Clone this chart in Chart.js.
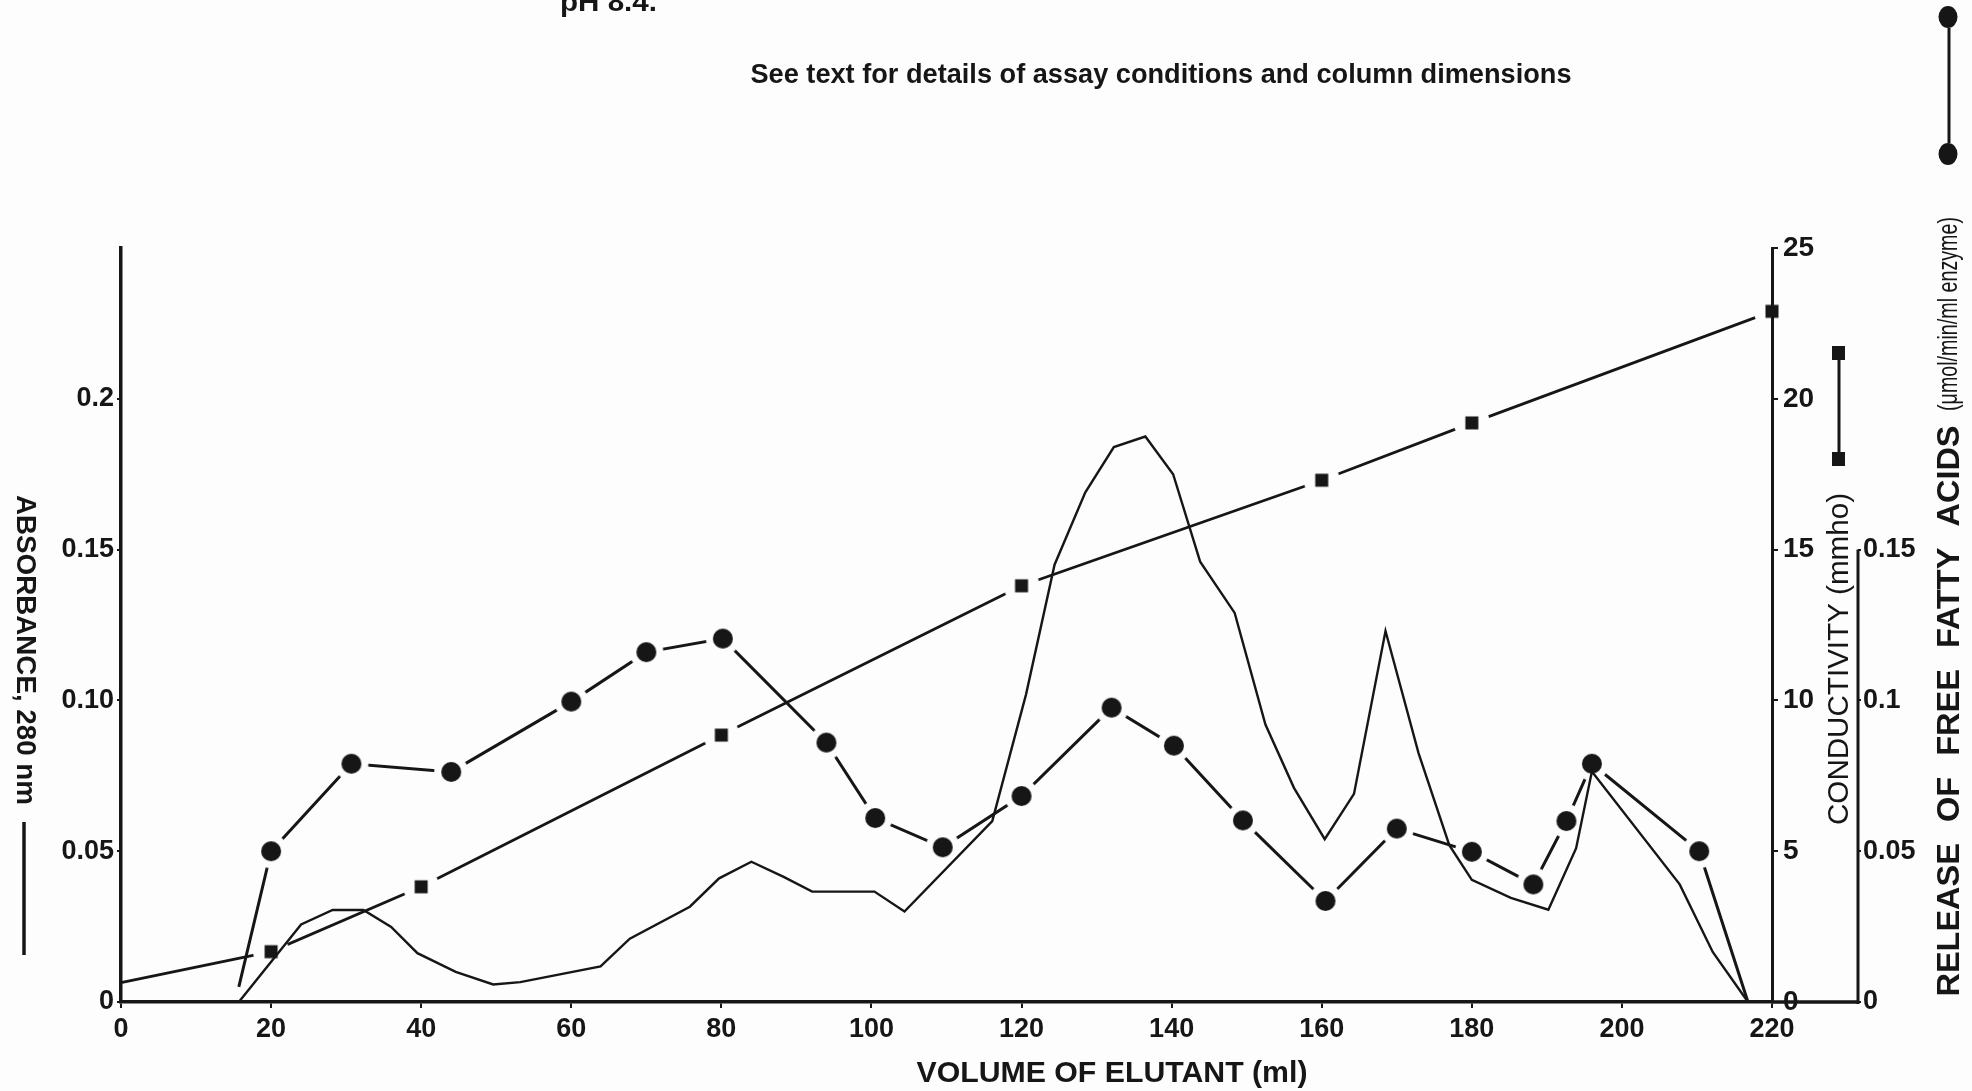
<!DOCTYPE html>
<html>
<head>
<meta charset="utf-8">
<title>Elution profile</title>
<script src="https://cdn.jsdelivr.net/npm/chart.js@4.4.1/dist/chart.umd.min.js"></script>
<style>
  html, body { margin: 0; padding: 0; background: #fdfdfd; }
  #wrap { position: relative; width: 1972px; height: 1091px; }
</style>
</head>
<body>
<div id="wrap"><canvas id="elutionChart"></canvas></div>
<script>
// absorbance at 280 nm (plain trace)
const absVolume = [15.7, 24, 28.2, 32.3, 36, 39.5, 44.6, 49.6, 53.2, 63.9, 67.8, 75.8, 79.7, 84, 88.3, 92.1, 96, 100.4, 104.4, 116.1, 120.6, 124.4, 128.5, 132.3, 136.5, 140.2, 143.8, 148.4, 152.5, 156.3, 160.4, 164.3, 168.5, 172.9, 177, 180, 185.2, 190.2, 193.9, 196, 207.7, 212.1, 216.8];
const absorbance = [0, 0.0257, 0.0305, 0.0305, 0.0249, 0.0162, 0.010, 0.0058, 0.0066, 0.0118, 0.021, 0.0316, 0.041, 0.0465, 0.0415, 0.0366, 0.0366, 0.0366, 0.030, 0.060, 0.102, 0.145, 0.169, 0.184, 0.1875, 0.175, 0.146, 0.129, 0.092, 0.071, 0.054, 0.069, 0.123, 0.0825, 0.052, 0.0405, 0.0345, 0.0306, 0.051, 0.0764, 0.039, 0.0166, 0];

// release of free fatty acids (circles)
const ffaVolume = [15.7, 20, 30.7, 44, 60, 70, 80.2, 94, 100.5, 109.5, 120, 132, 140.3, 149.5, 160.5, 170, 180, 188.2, 192.6, 196, 210.3, 216.8];
const ffaRelease = [0.005, 0.05, 0.079, 0.0763, 0.0996, 0.116, 0.1205, 0.086, 0.061, 0.0513, 0.0683, 0.0976, 0.085, 0.0602, 0.0335, 0.0575, 0.0498, 0.039, 0.060, 0.079, 0.050, 0];

// conductivity in mmho (squares)
const condVolume = [0, 20, 40, 80, 120, 160, 180, 220];
const conductivity = [0.64, 1.67, 3.82, 8.85, 13.8, 17.3, 19.2, 22.9];

// axis ticks
const volumeTicks = [0, 20, 40, 60, 80, 100, 120, 140, 160, 180, 200, 220];
const absTicks = [0, 0.05, 0.1, 0.15, 0.2];
const absTickLabels = ['0', '0.05', '0.10', '0.15', '0.2'];
const condTicks = [0, 5, 10, 15, 20, 25];
const ffaTicks = [0, 0.05, 0.1, 0.15];
const ffaTickLabels = ['0', '0.05', '0.1', '0.15'];

const INK = '#161616';
const PAPER = '#fdfdfd';
const FAMILY = "'Liberation Sans', Arial, sans-serif";

function toPoints(xs, ys) {
    var pts = [];
    for (let i = 0; i < xs.length; i++) {
        pts.push({ x: xs[i], y: ys[i] });
    }
    return pts;
}

// marker images: a solid mark inside a paper-coloured halo that breaks the line
function makeMarker(shape) {
    const c = document.createElement('canvas');
    c.width = 38;
    c.height = 38;
    const g = c.getContext('2d');
    g.fillStyle = PAPER;
    g.beginPath();
    g.arc(19, 19, shape === 'circle' ? 17 : 18, 0, Math.PI * 2);
    g.fill();
    g.fillStyle = INK;
    g.beginPath();
    if (shape === 'circle') {
        g.arc(19, 19, 10, 0, Math.PI * 2);
    } else {
        g.rect(12.5, 12.5, 13, 13);
    }
    g.fill();
    return c;
}

const dotMarker = makeMarker('circle');
const squareMarker = makeMarker('square');

function drawText(ctx, text, cx, cy, angle, font, length, wordGap) {
    ctx.save();
    ctx.font = font;
    if (wordGap) {
        ctx.wordSpacing = wordGap;
    }
    const w = ctx.measureText(text).width;
    ctx.translate(cx, cy);
    ctx.rotate(angle);
    ctx.scale(length / w, 1);
    ctx.textAlign = 'center';
    ctx.textBaseline = 'middle';
    ctx.fillStyle = INK;
    ctx.fillText(text, 0, 0);
    ctx.restore();
}

function vline(ctx, x, y1, y2, w) {
    ctx.save();
    ctx.strokeStyle = INK;
    ctx.lineWidth = w;
    ctx.beginPath();
    ctx.moveTo(x, y1);
    ctx.lineTo(x, y2);
    ctx.stroke();
    ctx.restore();
}

const decorations = {
    id: 'decorations',
    beforeDraw(chart) {
        const ctx = chart.ctx;
        ctx.save();
        ctx.fillStyle = PAPER;
        ctx.fillRect(0, 0, chart.width, chart.height);
        ctx.restore();
    },
    afterDraw(chart) {
        const ctx = chart.ctx;
        const sx = chart.scales.x, sy = chart.scales.y, s2 = chart.scales.y2;
        const base = sy.getPixelForValue(0);

        // baseline carried on to the enzyme-activity axis, which only runs to 0.15
        ctx.save();
        ctx.strokeStyle = INK;
        ctx.lineWidth = 3.5;
        ctx.beginPath();
        ctx.moveTo(sx.getPixelForValue(220), base);
        ctx.lineTo(s2.left, base);
        ctx.stroke();
        ctx.restore();
        vline(ctx, s2.left, s2.getPixelForValue(0) + 2, s2.getPixelForValue(0.15), 3);

        // caption
        ctx.save();
        ctx.font = 'bold 28px ' + FAMILY;
        ctx.fillStyle = INK;
        const ph = 'pH 8.4.';
        const pw = ctx.measureText(ph).width;
        ctx.translate(560, 11);
        ctx.scale(97 / pw, 1);
        ctx.fillText(ph, 0, 0);
        ctx.restore();
        drawText(ctx, 'See text for details of assay conditions and column dimensions',
            1161, 75, 0, 'bold 28px ' + FAMILY, 821);

        // axis titles with their line keys
        drawText(ctx, 'ABSORBANCE, 280 nm', 25, 650, Math.PI / 2, 'bold 28px ' + FAMILY, 310);
        vline(ctx, 24, 822, 955, 3.5);

        drawText(ctx, 'VOLUME OF ELUTANT (ml)', 1112, 1074, 0, 'bold 30px ' + FAMILY, 391);

        drawText(ctx, 'CONDUCTIVITY (mmho)', 1840, 659, -Math.PI / 2, '30px ' + FAMILY, 332);
        ctx.save();
        ctx.fillStyle = INK;
        ctx.fillRect(1832, 346, 13, 14);
        ctx.fillRect(1832, 452, 13, 14);
        ctx.restore();
        vline(ctx, 1839, 358, 453, 3);

        drawText(ctx, 'RELEASE OF FREE FATTY ACIDS', 1950, 711, -Math.PI / 2, 'bold 32px ' + FAMILY, 571, '12px');
        drawText(ctx, '(\u03bcmol/min/ml enzyme)', 1950, 314, -Math.PI / 2, '27px ' + FAMILY, 194);
        ctx.save();
        ctx.fillStyle = INK;
        ctx.beginPath();
        ctx.ellipse(1948, 17, 9.5, 11, 0, 0, Math.PI * 2);
        ctx.fill();
        ctx.beginPath();
        ctx.ellipse(1948, 154, 9.5, 11, 0, 0, Math.PI * 2);
        ctx.fill();
        ctx.restore();
        vline(ctx, 1949, 28, 143, 3);
    }
};

const tickFont = { family: FAMILY, weight: 'bold', size: 27 };

const data = {
    datasets: [
        {
            label: 'Absorbance 280 nm',
            data: toPoints(absVolume, absorbance),
            yAxisID: 'y',
            borderColor: INK,
            borderWidth: 2.4,
            pointRadius: 0,
            tension: 0,
            order: 0
        },
        {
            label: 'Release of free fatty acids',
            data: toPoints(ffaVolume, ffaRelease),
            yAxisID: 'y2',
            borderColor: INK,
            borderWidth: 3,
            pointStyle: dotMarker,
            pointRadius: ffaVolume.map((v, i) => (i === 0 || i === ffaVolume.length - 1) ? 0 : 10),
            tension: 0,
            clip: false,
            order: 1
        },
        {
            label: 'Conductivity',
            data: toPoints(condVolume, conductivity),
            yAxisID: 'y1',
            borderColor: INK,
            borderWidth: 2.8,
            pointStyle: squareMarker,
            pointRadius: condVolume.map((v, i) => i === 0 ? 0 : 10),
            tension: 0,
            clip: false,
            order: 2
        }
    ]
};

const config = {
    type: 'line',
    data: data,
    options: {
        responsive: true,
        maintainAspectRatio: false,
        animation: false,
        events: [],
        layout: { padding: { top: 248, left: 0, right: 0, bottom: 0 } },
        plugins: {
            legend: { display: false },
            tooltip: { enabled: false }
        },
        scales: {
            x: {
                type: 'linear',
                position: 'bottom',
                min: 0,
                max: 220,
                afterFit: (s) => { s.height = 89; },
                afterBuildTicks: (s) => { s.ticks = volumeTicks.map(v => ({ value: v })); },
                ticks: { font: tickFont, color: INK, padding: 5, maxRotation: 0 },
                grid: { drawOnChartArea: false, tickLength: 6, color: INK, lineWidth: 2 },
                border: { color: INK, width: 3.5, z: 1 }
            },
            y: {
                position: 'left',
                min: 0,
                max: 0.25,
                afterFit: (s) => { s.width = 121; },
                afterBuildTicks: (s) => { s.ticks = absTicks.map(v => ({ value: v })); },
                ticks: { font: tickFont, color: INK, padding: 3, callback: (v, i) => absTickLabels[i] },
                grid: { drawOnChartArea: false, tickLength: 4, color: INK, lineWidth: 2 },
                border: { color: INK, width: 3.5, z: 1 }
            },
            y1: {
                position: 'right',
                weight: 1,
                min: 0,
                max: 25,
                afterFit: (s) => { s.width = 86; },
                afterBuildTicks: (s) => { s.ticks = condTicks.map(v => ({ value: v })); },
                ticks: { font: { family: FAMILY, weight: 'bold', size: 28 }, color: INK, padding: 5 },
                grid: { drawOnChartArea: false, tickLength: 6, color: INK, lineWidth: 2 },
                border: { color: INK, width: 3, z: 1 }
            },
            y2: {
                position: 'right',
                weight: 2,
                min: 0,
                max: 0.25,
                afterFit: (s) => { s.width = 114; },
                afterBuildTicks: (s) => { s.ticks = ffaTicks.map(v => ({ value: v })); },
                ticks: { font: tickFont, color: INK, padding: 2, callback: (v, i) => ffaTickLabels[i] },
                grid: { drawOnChartArea: false, tickLength: 3, color: INK, lineWidth: 2 },
                border: { display: false }
            }
        }
    },
    plugins: [decorations]
};

const elutionChart = new Chart(document.getElementById('elutionChart'), config);
</script>
</body>
</html>
